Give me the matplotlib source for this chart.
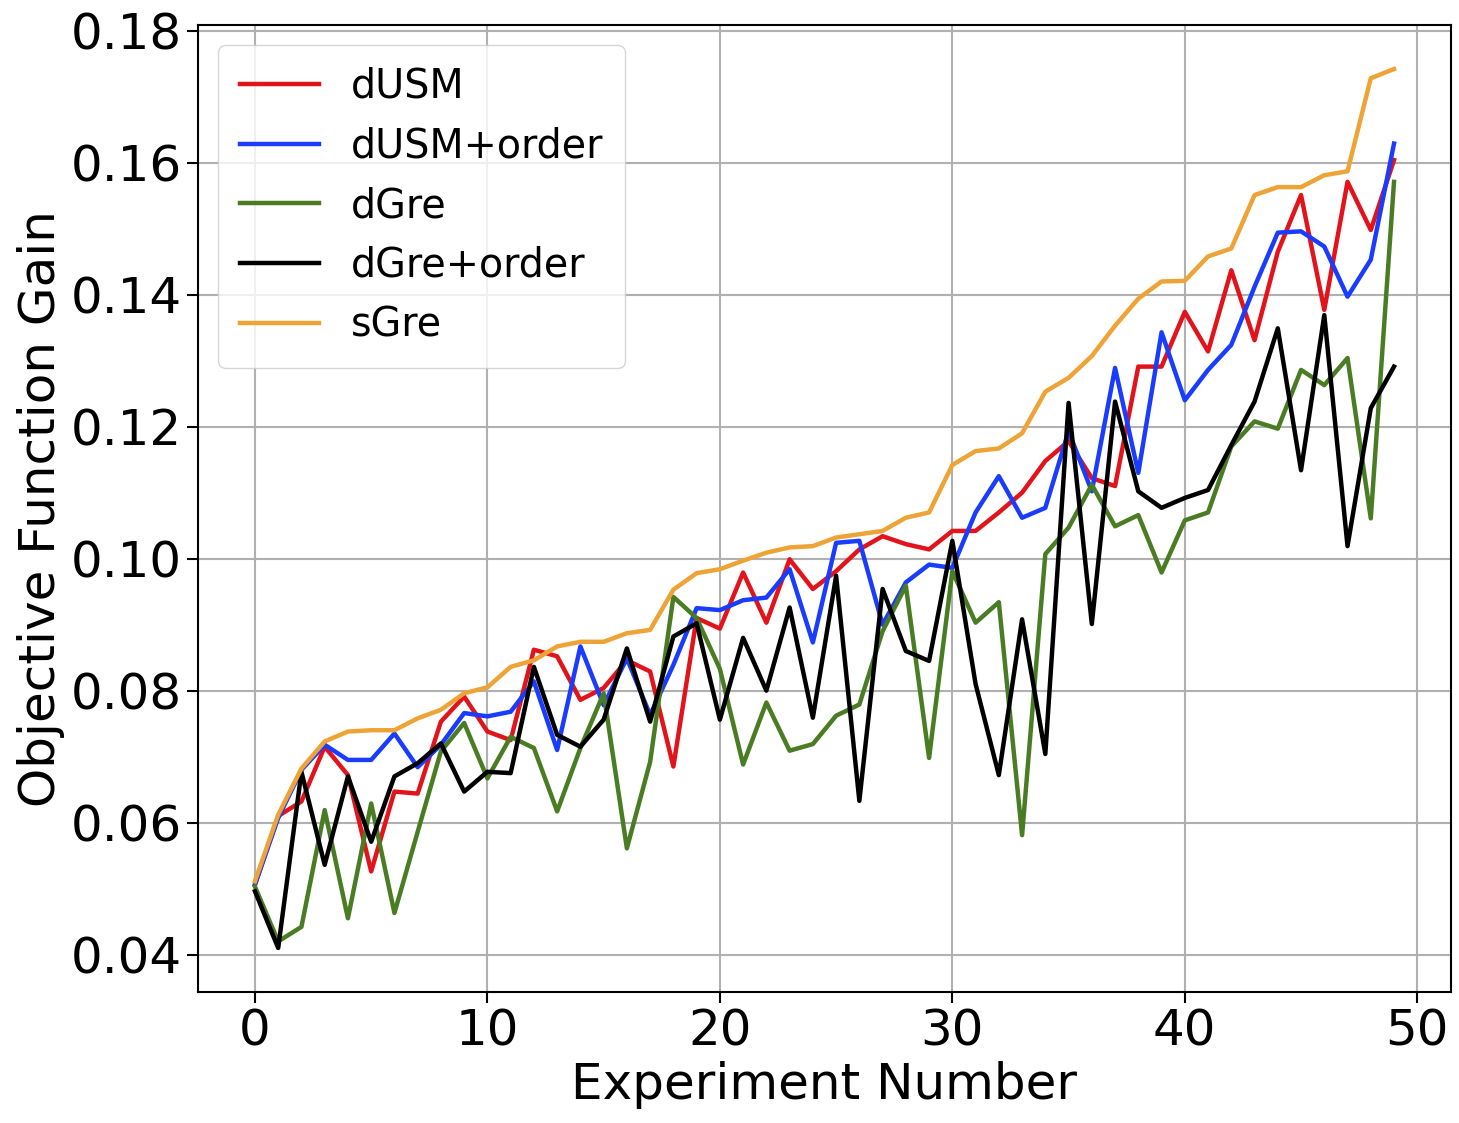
import numpy as np
import matplotlib
matplotlib.use("Agg")
import matplotlib.pyplot as plt

experiments = np.arange(50)

dusm = [0.0506, 0.0610, 0.0632, 0.0715, 0.0672, 0.0526, 0.0647, 0.0644, 0.0753, 0.0791,
        0.0738, 0.0725, 0.0862, 0.0852, 0.0786, 0.0804, 0.0846, 0.0829, 0.0685, 0.0910,
        0.0894, 0.0979, 0.0903, 0.0999, 0.0954, 0.0981, 0.1014, 0.1034, 0.1022, 0.1014,
        0.1042, 0.1042, 0.1070, 0.1100, 0.1148, 0.1178, 0.1122, 0.1110, 0.1291, 0.1291,
        0.1374, 0.1314, 0.1437, 0.1331, 0.1465, 0.1551, 0.1377, 0.1571, 0.1498, 0.1604]

dusm_order = [0.0506, 0.0607, 0.0680, 0.0718, 0.0695, 0.0695, 0.0735, 0.0684, 0.0718, 0.0766,
              0.0761, 0.0768, 0.0814, 0.0710, 0.0867, 0.0778, 0.0849, 0.0763, 0.0839, 0.0925,
              0.0922, 0.0937, 0.0941, 0.0984, 0.0873, 0.1024, 0.1027, 0.0900, 0.0964, 0.0991,
              0.0986, 0.1070, 0.1125, 0.1062, 0.1077, 0.1193, 0.1102, 0.1289, 0.1130, 0.1343,
              0.1240, 0.1286, 0.1324, 0.1412, 0.1494, 0.1496, 0.1473, 0.1397, 0.1453, 0.1629]

dgre = [0.0503, 0.0420, 0.0442, 0.0619, 0.0455, 0.0629, 0.0463, 0.0586, 0.0708, 0.0751,
        0.0667, 0.0730, 0.0713, 0.0617, 0.0713, 0.0796, 0.0561, 0.0692, 0.0942, 0.0910,
        0.0833, 0.0688, 0.0782, 0.0709, 0.0719, 0.0762, 0.0779, 0.0890, 0.0959, 0.0698,
        0.0981, 0.0903, 0.0934, 0.0581, 0.1007, 0.1047, 0.1112, 0.1049, 0.1066, 0.0979,
        0.1058, 0.1070, 0.1170, 0.1208, 0.1197, 0.1286, 0.1263, 0.1304, 0.1061, 0.1571]

dgre_order = [0.0496, 0.0410, 0.0677, 0.0536, 0.0670, 0.0571, 0.0670, 0.0690, 0.0720, 0.0647,
              0.0677, 0.0675, 0.0836, 0.0733, 0.0715, 0.0756, 0.0864, 0.0753, 0.0882, 0.0902,
              0.0756, 0.0880, 0.0800, 0.0926, 0.0759, 0.0974, 0.0633, 0.0954, 0.0860, 0.0845,
              0.1027, 0.0810, 0.0672, 0.0908, 0.0704, 0.1236, 0.0901, 0.1238, 0.1102, 0.1077,
              0.1092, 0.1104, 0.1172, 0.1238, 0.1349, 0.1134, 0.1369, 0.1019, 0.1228, 0.1291]

sgre = [0.0511, 0.0612, 0.0682, 0.0723, 0.0738, 0.0740, 0.0740, 0.0758, 0.0771, 0.0796,
        0.0805, 0.0836, 0.0846, 0.0867, 0.0874, 0.0874, 0.0887, 0.0892, 0.0953, 0.0978,
        0.0984, 0.0997, 0.1009, 0.1017, 0.1019, 0.1032, 0.1037, 0.1042, 0.1062, 0.1070,
        0.1142, 0.1163, 0.1167, 0.1190, 0.1253, 0.1274, 0.1307, 0.1353, 0.1394, 0.1420,
        0.1421, 0.1458, 0.1470, 0.1551, 0.1563, 0.1563, 0.1581, 0.1587, 0.1728, 0.1742]

series = [
    ("dUSM", dusm, "#e3131b"),
    ("dUSM+order", dusm_order, "#1a3cff"),
    ("dGre", dgre, "#4a7d23"),
    ("dGre+order", dgre_order, "#000000"),
    ("sGre", sgre, "#eea336"),
]

fig = plt.figure(figsize=(14.59, 11.23), dpi=100)
ax = fig.add_axes([0.1357, 0.1167, 0.8588, 0.861])

for label, values, color in series:
    ax.plot(experiments, values, color=color, linewidth=3.2, label=label)

ax.grid(True, color="#b0b0b0", linewidth=1.5)
ax.set_yticks([0.04, 0.06, 0.08, 0.10, 0.12, 0.14, 0.16, 0.18])
ax.set_yticklabels(["0.04", "0.06", "0.08", "0.10", "0.12", "0.14", "0.16", "0.18"])
ax.set_xticks([0, 10, 20, 30, 40, 50])
ax.tick_params(labelsize=36, length=8, width=1.5)
for spine in ax.spines.values():
    spine.set_linewidth(1.5)

ax.set_xlabel("Experiment Number", fontsize=36, labelpad=4)
ax.set_ylabel("Objective Function Gain", fontsize=36, labelpad=4)

ax.legend(loc="upper left", fontsize=28.5, handlelength=2.0, borderpad=0.55,
          labelspacing=0.5, handletextpad=0.8)

fig.savefig("out.png", dpi=100)
